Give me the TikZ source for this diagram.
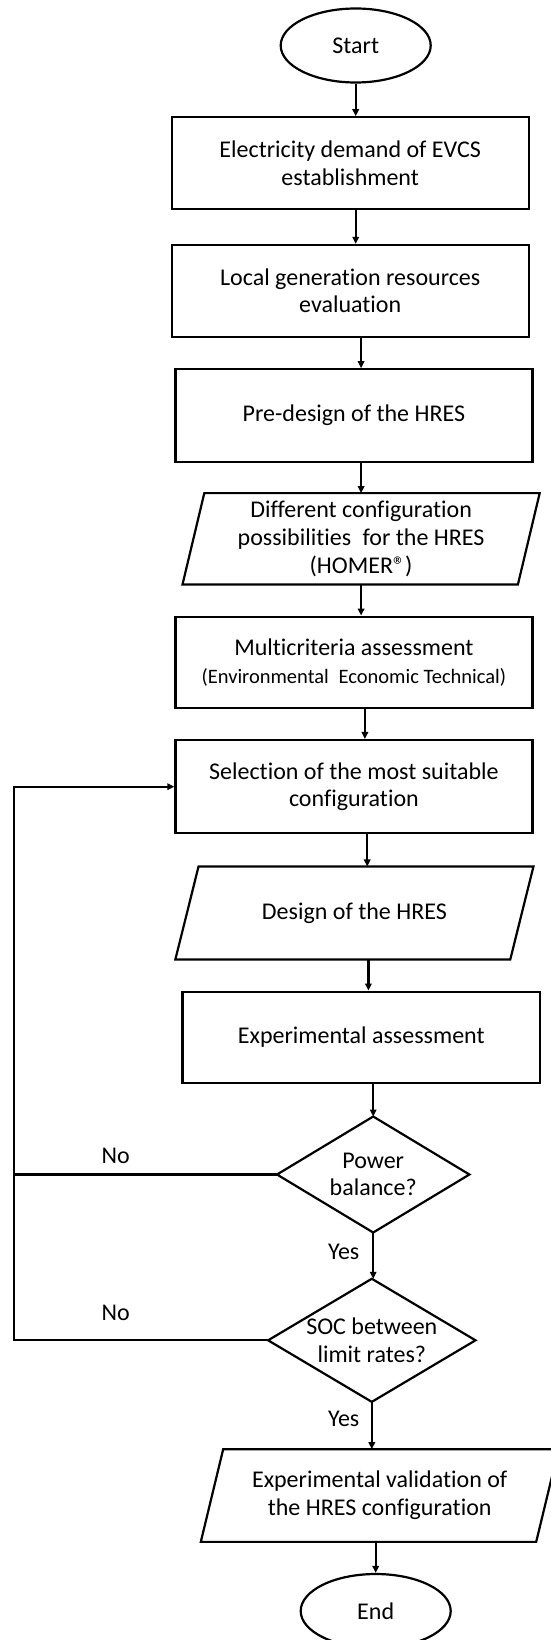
\documentclass[tikz,border=0pt]{standalone}
\usepackage{fontspec}
\setmainfont{Carlito}[Ligatures={NoCommon}]
\usetikzlibrary{shapes.geometric,arrows.meta,calc}

\begin{document}
\begin{tikzpicture}[x=1pt,y=-1pt,
  line/.style={line width=2.2pt, draw=black},
  arr/.style={line, -{Triangle[length=7pt,width=6.5pt]}},
  txt/.style={font=\fontsize{24}{27.7}\selectfont, align=center, text=black, inner sep=0pt},
  box/.style={txt, draw, line width=2.2pt, rectangle, minimum width=357pt},
  term/.style={txt, draw, line width=2.2pt, ellipse, minimum width=150pt, minimum height=74pt},
  slot/.style={txt, rectangle, minimum width=335pt},
  choice/.style={txt, rectangle},
]
\useasboundingbox (0,0) rectangle (550,1640);

% process steps
\node[term] (start) at (355.7,45.5) {Start};
\node[box, minimum height=92pt] (b1) at (350.2,163.3) {Electricity demand of EVCS\\establishment};
\node[box, minimum height=91.7pt] (b2) at (350.2,290.8) {Local generation resources\\evaluation};
\node[box, minimum height=92.4pt] (b3) at (353.9,415.5) {Pre-design of the HRES};
\node[slot, minimum height=91pt] (p1) at (361.1,538.8) {Different configuration\\possibilities\hspace{.25em} for the HRES\\(HOMER®)};
\node[box, minimum height=91.7pt] (b4) at (353.9,662.5) {Multicriteria assessment\\{\fontsize{20.5}{24}\selectfont (Environmental\hspace{.25em} Economic Technical)}};
\node[box, minimum height=93.3pt] (b5) at (353.9,786.7) {Selection of the most suitable\\configuration};
\node[slot, minimum height=92.7pt, minimum width=334.5pt] (p2) at (354.4,913) {Design of the HRES};
\node[box, minimum width=357.8pt, minimum height=91.7pt] (b6) at (361.3,1037.5) {Experimental assessment};
\node[choice, minimum width=192pt, minimum height=115.6pt] (d1) at (373.2,1174.5) {Power\\balance?};
\node[choice, minimum width=207pt, minimum height=122.7pt] (d2) at (371.8,1340.3) {SOC between\\limit rates?};
\node[slot, minimum height=92.3pt] (p3) at (379.7,1495.5) {Experimental validation of\\the HRES configuration};
\node[term] (end) at (375.7,1611) {End};

% slanted data frames
\draw[line] ([xshift=10.9pt]p1.north west) -- ([xshift=10.9pt]p1.north east) -- ([xshift=-10.9pt]p1.south east) -- ([xshift=-10.9pt]p1.south west) -- cycle;
\draw[line] ([xshift=11.6pt]p2.north west) -- ([xshift=11.6pt]p2.north east) -- ([xshift=-11.6pt]p2.south east) -- ([xshift=-11.6pt]p2.south west) -- cycle;
\draw[line] ([xshift=11.2pt]p3.north west) -- ([xshift=11.2pt]p3.north east) -- ([xshift=-11.2pt]p3.south east) -- ([xshift=-11.2pt]p3.south west) -- cycle;

% decision diamonds
\draw[line] (d1.north) -- (d1.east) -- (d1.south) -- (d1.west) -- cycle;
\draw[line] (d2.north) -- (d2.east) -- (d2.south) -- (d2.west) -- cycle;

% main flow
\draw[arr] (start.south) -- (start.south |- b1.north);
\draw[arr] (b1.south -| start) -- (b2.north -| start);
\draw[arr] (b2.south -| p1) -- (b3.north -| p1);
\draw[arr] (b3.south -| p1) -- (p1.north);
\draw[arr] (p1.south) -- (p1.south |- b4.north);
\draw[arr] ([xshift=11pt]b4.south) -- ([xshift=11pt]b4.south |- b5.north);
\draw[arr] ([xshift=13.3pt]b5.south) -- ([xshift=13.3pt]b5.south |- p2.north);
\draw[arr] ([xshift=14pt]p2.south) -- ([xshift=14pt]p2.south |- b6.north);
\draw[arr] (b6.south -| d1) -- (d1.north);
\draw[arr] (d1.south) -- (d1.south |- d2.north);
\draw[arr] (d2.south) -- (d2.south |- p3.north);
\draw[arr] (p3.south -| end) -- (end.north);

% feedback loop
\coordinate (loop) at (14,0);
\draw[line] (d1.west) -- (d1.west -| loop);
\draw[arr] (d2.west) -- (d2.west -| loop) -- (b5.west -| loop) -- (b5.west);

% branch labels
\node[txt] (no1) at (115.7,1156) {No};
\node[txt] (no2) at (115.7,1312.7) {No};
\node[txt] (yes1) at (343.7,1251.7) {Yes};
\node[txt] (yes2) at (343.7,1419) {Yes};
\end{tikzpicture}
\end{document}
